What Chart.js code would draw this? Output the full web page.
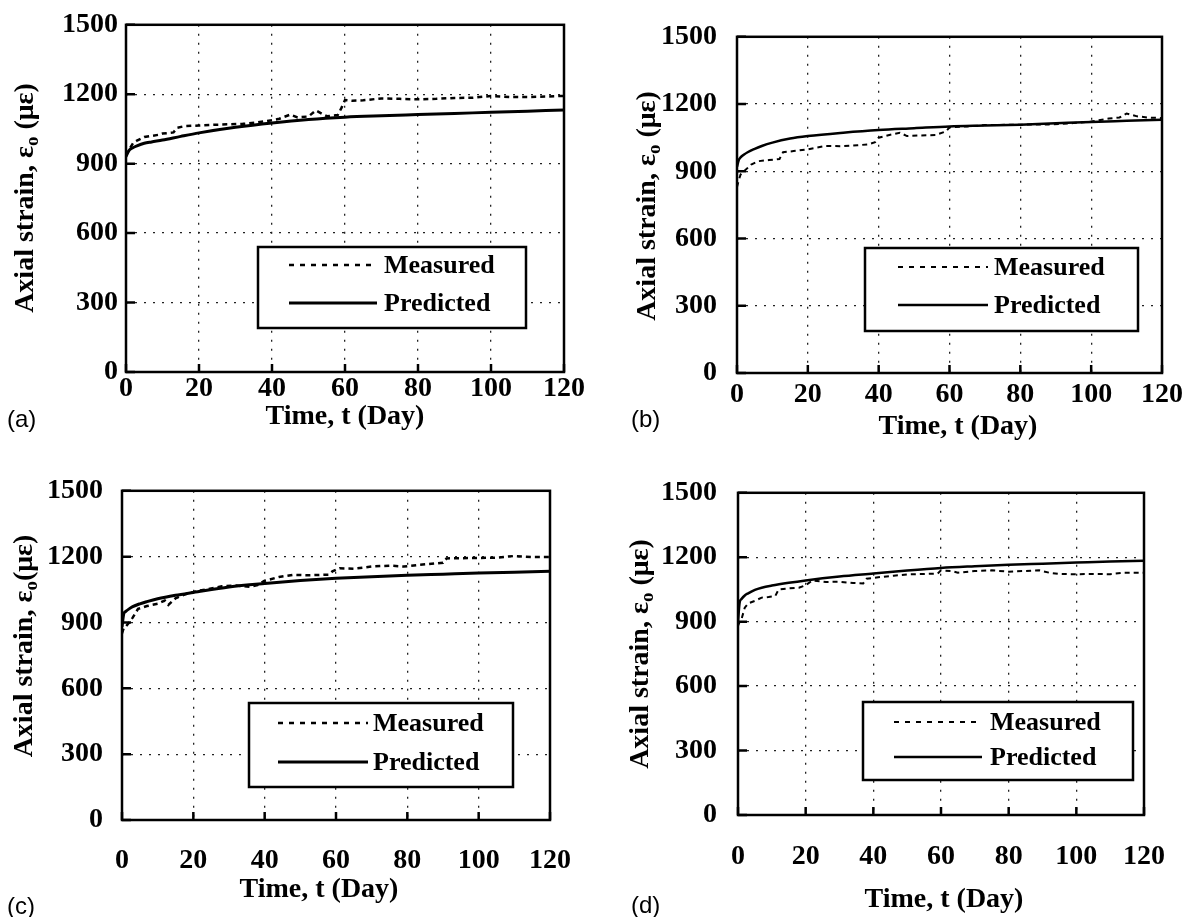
<!DOCTYPE html>
<html>
<head>
<meta charset="utf-8">
<script src="https://cdn.jsdelivr.net/npm/chart.js@4.4.1/dist/chart.umd.min.js"></script>
<style>
    body { margin: 0; background: #fff; width: 1190px; height: 917px; position: relative; overflow: hidden; }
    canvas { position: absolute; }
    .tag { position: absolute; font: 24px 'Liberation Sans', Arial, sans-serif; color: #000; line-height: 24px; }
</style>
</head>
<body>
<canvas id="chartA" width="595" height="455" style="left:0;top:0"></canvas>
<canvas id="chartB" width="595" height="455" style="left:595px;top:0"></canvas>
<canvas id="chartC" width="595" height="462" style="left:0;top:455px"></canvas>
<canvas id="chartD" width="595" height="462" style="left:595px;top:455px"></canvas>
<div class="tag" style="left:7px;top:407px">(a)</div>
<div class="tag" style="left:631px;top:407px">(b)</div>
<div class="tag" style="left:7px;top:894px">(c)</div>
<div class="tag" style="left:631px;top:893px">(d)</div>
<script>
// axis ticks
const xTicks = [0, 20, 40, 60, 80, 100, 120];
const yTicks = [0, 300, 600, 900, 1200, 1500];
const seriesNames = ['Measured', 'Predicted'];

// predicted curves share the same days
const predDays = [0, 0.5, 1, 2, 3, 5, 7, 10, 15, 20, 30, 40, 50, 60, 70, 80, 90, 100, 110, 120];
const predA = [930, 948, 960, 970, 977, 988, 994, 1002, 1018, 1033, 1057, 1076, 1091, 1101, 1107, 1112, 1117, 1122, 1127, 1132];
const predB = [920, 950, 962, 975, 985, 1000, 1013, 1028, 1046, 1057, 1072, 1084, 1092, 1100, 1104, 1108, 1114, 1120, 1125, 1130];
const predC = [880, 940, 950, 962, 972, 985, 995, 1008, 1024, 1037, 1062, 1078, 1091, 1101, 1108, 1115, 1120, 1125, 1129, 1133];
const predD = [900, 990, 1005, 1022, 1032, 1048, 1058, 1068, 1081, 1092, 1110, 1124, 1138, 1150, 1158, 1165, 1170, 1175, 1180, 1184];

// measured curves
const measDaysA = [0, 1, 2, 3, 5, 7, 9, 10, 13, 14, 16, 20, 24, 28, 32, 36, 40, 42, 45, 47, 50, 52, 55, 58, 59, 60, 62, 65, 70, 75, 80, 85, 90, 95, 100, 105, 110, 115, 120];
const measA = [935, 965, 990, 1000, 1015, 1020, 1025, 1030, 1035, 1055, 1062, 1065, 1068, 1070, 1072, 1078, 1088, 1094, 1112, 1100, 1104, 1130, 1105, 1110, 1140, 1175, 1172, 1174, 1182, 1180, 1178, 1180, 1184, 1185, 1192, 1188, 1188, 1190, 1193];

const measDaysB = [0, 0.5, 1, 2, 4, 6, 9, 12, 13, 16, 20, 25, 30, 34, 37, 39, 40, 43, 46, 48, 52, 56, 59, 60, 65, 70, 80, 88, 95, 100, 105, 108, 110, 113, 116, 120];
const measB = [830, 860, 885, 900, 930, 945, 950, 955, 985, 990, 998, 1013, 1012, 1016, 1020, 1030, 1050, 1062, 1072, 1057, 1060, 1062, 1078, 1096, 1100, 1106, 1108, 1109, 1115, 1122, 1135, 1140, 1158, 1145, 1140, 1137];

const measDaysC = [0, 0.5, 1, 2, 3, 4.5, 7, 10, 12, 13, 15, 18, 21, 25, 28, 32, 36, 38, 40, 44, 48, 52, 58, 59, 61, 65, 70, 75, 79, 83, 88, 90, 91, 100, 105, 110, 115, 120];
const measC = [850, 875, 880, 900, 922, 962, 975, 985, 1000, 980, 1010, 1030, 1043, 1055, 1065, 1068, 1063, 1070, 1090, 1107, 1117, 1115, 1118, 1133, 1147, 1145, 1155, 1159, 1155, 1162, 1169, 1172, 1192, 1194, 1195, 1203, 1198, 1198];

const measDaysD = [0, 0.5, 1, 2, 3, 5, 7, 9, 11, 12, 15, 18, 20, 22, 26, 30, 34, 37, 38, 42, 46, 50, 55, 59, 60, 63, 65, 70, 75, 80, 85, 89, 92, 95, 100, 105, 110, 114, 120];
const measD = [880, 900, 910, 965, 985, 997, 1012, 1015, 1019, 1050, 1055, 1058, 1070, 1092, 1085, 1086, 1080, 1078, 1100, 1108, 1114, 1120, 1122, 1124, 1139, 1136, 1128, 1136, 1139, 1133, 1136, 1139, 1128, 1122, 1121, 1122, 1121, 1128, 1128];

const serif = "'Liberation Serif', 'Times New Roman', serif";

function toPoints(days, vals) {
    return days.map((d, i) => ({ x: d, y: vals[i] }));
}

// frame, inward ticks, axis titles and boxed legend
const decorPlugin = {
    id: 'decor',
    afterDraw(chart, args, o) {
        const ctx = chart.ctx;
        const a = chart.chartArea;
        const xs = chart.scales.x, ys = chart.scales.y;
        ctx.save();
        ctx.strokeStyle = '#000';
        ctx.fillStyle = '#000';

        // legend box
        const [bl, bt, br, bb] = o.legend.box;
        ctx.fillStyle = '#fff';
        ctx.fillRect(bl, bt, br - bl, bb - bt);
        ctx.lineWidth = 2.5;
        ctx.strokeRect(bl, bt, br - bl, bb - bt);
        ctx.fillStyle = '#000';
        ctx.font = 'bold 26px ' + serif;
        ctx.textBaseline = 'middle';
        ctx.textAlign = 'left';
        chart.data.datasets.forEach((ds, i) => {
            const y = bt + o.legend.rows[i];
            ctx.beginPath();
            ctx.lineWidth = ds.borderWidth;
            ctx.setLineDash(ds.borderDash ? [5, 6] : []);
            ctx.moveTo(bl + o.legend.line[0], y);
            ctx.lineTo(bl + o.legend.line[1], y);
            ctx.stroke();
            ctx.setLineDash([]);
            ctx.fillText(ds.label, bl + o.legend.text, y + 1);
        });

        // plot frame
        ctx.lineWidth = 2.5;
        ctx.strokeRect(a.left, a.top, a.right - a.left, a.bottom - a.top);

        // inward tick marks on left and bottom axes
        ctx.beginPath();
        yTicks.forEach(v => {
            const y = ys.getPixelForValue(v);
            ctx.moveTo(a.left, y);
            ctx.lineTo(a.left + 9, y);
        });
        xTicks.forEach(v => {
            const x = xs.getPixelForValue(v);
            ctx.moveTo(x, a.bottom);
            ctx.lineTo(x, a.bottom - 8);
        });
        ctx.stroke();

        // x axis title
        ctx.font = 'bold 28px ' + serif;
        ctx.textAlign = 'center';
        ctx.fillText(o.xTitle.text, o.xTitle.x, o.xTitle.y);

        // y axis title with subscript
        ctx.translate(o.yTitle.x, o.yTitle.y);
        ctx.rotate(-Math.PI / 2);
        ctx.textAlign = 'left';
        const big = 'bold 28px ' + serif, small = 'bold 19px ' + serif;
        const parts = [[o.yTitle.main, big, 0], ['o', small, 7], [o.yTitle.tail, big, 0]];
        let total = 0;
        parts.forEach(p => { ctx.font = p[1]; total += ctx.measureText(p[0]).width; });
        let cx = -total / 2;
        parts.forEach(p => {
            ctx.font = p[1];
            ctx.fillText(p[0], cx, p[2]);
            cx += ctx.measureText(p[0]).width;
        });
        ctx.restore();
    }
};

function makePanel(id, p) {
    const [L, T, R, B] = p.area;
    const canvas = document.getElementById(id);
    const W = canvas.width, H = canvas.height;
    const tickFont = { family: serif, size: 28, weight: 'bold' };
    return new Chart(canvas, {
        type: 'line',
        data: {
            datasets: [
                {
                    label: seriesNames[0],
                    data: toPoints(p.measDays, p.meas),
                    borderColor: '#000',
                    borderWidth: p.wMeas,
                    borderDash: [5, 4],
                    pointRadius: 0,
                    tension: 0,
                    fill: false
                },
                {
                    label: seriesNames[1],
                    data: toPoints(predDays, p.pred),
                    borderColor: '#000',
                    borderWidth: p.wPred,
                    pointRadius: 0,
                    cubicInterpolationMode: 'monotone',
                    fill: false
                }
            ]
        },
        options: {
            responsive: false,
            animation: false,
            devicePixelRatio: 1,
            layout: { padding: { left: 0, top: T, right: W - R, bottom: 0 } },
            plugins: {
                legend: { display: false },
                tooltip: { enabled: false },
                decor: {
                    legend: p.legend,
                    xTitle: { text: 'Time, t (Day)', x: p.xTitle[0], y: p.xTitle[1] },
                    yTitle: { main: 'Axial strain, ε', tail: p.yTail, x: p.yTitle[0], y: p.yTitle[1] }
                }
            },
            scales: {
                x: {
                    type: 'linear',
                    min: 0,
                    max: 120,
                    afterBuildTicks: s => { s.ticks = xTicks.map(v => ({ value: v })); },
                    afterFit: s => { s.height = H - B; },
                    grid: { color: '#222', lineWidth: 1.3, drawTicks: false },
                    border: { display: false, dash: [2, 7] },
                    ticks: { color: '#000', font: tickFont, padding: p.xPad, maxRotation: 0, callback: v => String(v) }
                },
                y: {
                    min: 0,
                    max: 1500,
                    afterBuildTicks: s => { s.ticks = yTicks.map(v => ({ value: v })); },
                    afterFit: s => { s.width = L; },
                    grid: { color: '#222', lineWidth: 1.3, drawTicks: false },
                    border: { display: false, dash: [2, 7] },
                    ticks: { color: '#000', font: tickFont, padding: p.yPad, callback: v => String(v) }
                }
            }
        },
        plugins: [decorPlugin]
    });
}

makePanel('chartA', {
    area: [126, 19, 564, 372], xPad: 0, yPad: 8,
    meas: measA, measDays: measDaysA, pred: predA, wMeas: 2.5, wPred: 3,
    xTitle: [345, 417], yTitle: [26, 198], yTail: ' (με)',
    legend: { box: [258, 247, 526, 328], line: [31, 119], text: 126, rows: [18, 56] }
});
makePanel('chartB', {
    area: [142, 30, 567, 373], xPad: 5, yPad: 20,
    meas: measB, measDays: measDaysB, pred: predB, wMeas: 2, wPred: 2.5,
    xTitle: [363, 427], yTitle: [53, 206], yTail: ' (με)',
    legend: { box: [270, 248, 543, 331], line: [33, 123], text: 129, rows: [19, 57] }
});
makePanel('chartC', {
    area: [122, 20, 561, 365], xPad: 24, yPad: 19,
    meas: measC, measDays: measDaysC, pred: predC, wMeas: 2.5, wPred: 3,
    xTitle: [319, 435], yTitle: [25, 191], yTail: '(με)',
    legend: { box: [249, 248, 513, 332], line: [29, 119], text: 124, rows: [20, 59] }
});
makePanel('chartD', {
    area: [143, 17, 562, 360], xPad: 25, yPad: 21,
    meas: measD, measDays: measDaysD, pred: predD, wMeas: 2, wPred: 2.5,
    xTitle: [349, 445], yTitle: [46, 199], yTail: ' (με)',
    legend: { box: [268, 247, 538, 325], line: [31, 119], text: 127, rows: [20, 55] }
});
</script>
</body>
</html>
